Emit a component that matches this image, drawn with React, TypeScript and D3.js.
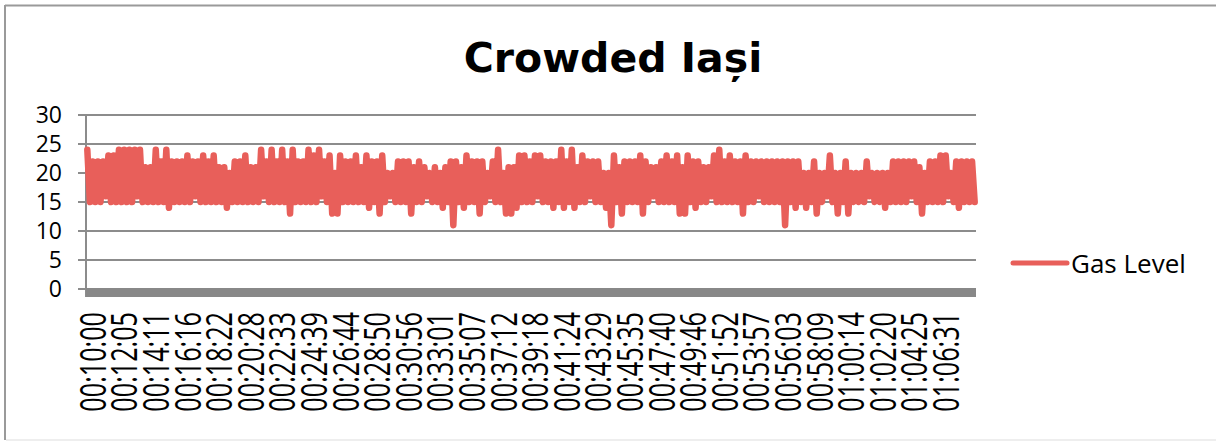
import React from "react";
import * as d3 from "d3";

const chartTitle = "Crowded Iași";
const seriesName = "Gas Level";

const gasLevel: number[] = [
  24,15,22,15,22,15,22,16,23,15,23,15,24,15,24,15,24,15,24,16,
  24,15,21,15,21,15,24,15,22,15,24,14,22,15,22,15,22,15,23,15,
  22,16,22,15,23,15,22,15,23,15,21,15,21,14,20,15,22,15,22,15,
  23,15,21,15,21,15,24,16,22,15,24,15,22,15,24,15,22,13,24,15,
  22,15,22,15,24,15,23,15,24,16,22,15,23,13,20,13,23,15,22,15,
  22,15,23,15,21,15,23,14,22,15,22,13,23,15,20,16,20,15,22,15,
  22,15,22,13,21,15,22,15,21,16,20,15,21,15,20,14,21,15,22,11,
  22,15,21,14,23,15,22,15,22,13,22,15,20,16,22,15,24,15,20,13,
  21,13,21,14,23,15,23,15,22,15,23,16,23,15,22,15,22,14,22,15,
  24,14,22,15,24,14,21,15,23,15,22,16,22,15,22,15,20,14,20,11,
  23,15,21,13,22,15,22,15,22,15,23,13,22,15,21,16,21,15,22,15,
  23,15,22,15,23,13,21,13,23,15,22,14,22,15,21,15,21,16,23,15,
  24,15,22,15,23,15,22,15,22,13,23,15,22,15,22,16,22,15,22,15,
  22,15,22,15,22,11,22,15,22,14,22,15,20,14,20,15,22,13,20,15,
  20,16,23,15,20,13,20,15,22,13,20,15,20,15,20,15,22,16,20,15,
  20,15,20,14,20,15,22,15,22,15,22,15,22,16,22,15,21,13,20,15,
  22,15,22,15,23,15,23,16,20,15,22,14,22,15,22,15,22,15,
];

const timeLabels: string[] = [
  "00:10:00","00:12:05","00:14:11","00:16:16","00:18:22","00:20:28","00:22:33",
  "00:24:39","00:26:44","00:28:50","00:30:56","00:33:01","00:35:07","00:37:12",
  "00:39:18","00:41:24","00:43:29","00:45:35","00:47:40","00:49:46","00:51:52",
  "00:53:57","00:56:03","00:58:09","01:00:14","01:02:20","01:04:25","01:06:31",
];
const labelEvery = 12;

const yTicks: number[] = [0, 5, 10, 15, 20, 25, 30];

export default function App() {
  const W = 1216, H = 441;
  const left = 86, right = 976, top = 115, bottom = 289;
  const N = gasLevel.length;
  const x = d3.scaleLinear().domain([-0.5, N - 0.5]).range([left, right]);
  const y = d3.scaleLinear().domain([0, 30]).range([bottom, top]);
  const line = d3.line<number>().x((_, i) => x(i)).y((d) => y(d));
  const red = "#E85F5A";
  const gray = "#8c8c8c";
  const font = "'DejaVu Sans', sans-serif";
  const labelFont = "'Open Sans', 'DejaVu Sans', sans-serif";

  return (
    <svg width={W} height={H} style={{ position: "absolute", left: 0, top: 0, background: "#fff" }}>
      {/* chart border */}
      <line x1={5} y1={5.5} x2={W} y2={5.5} stroke="#9a9a9a" strokeWidth={2} />
      <line x1={5} y1={5} x2={5} y2={H - 1} stroke="#9a9a9a" strokeWidth={2} />
      <line x1={6} y1={440} x2={W} y2={440} stroke="#dddddd" strokeWidth={1} />

      <text x={613} y={72} textAnchor="middle" fontFamily={font} fontWeight="bold" fontSize={41} fill="#000">
        {chartTitle}
      </text>

      {/* gridlines + y labels */}
      {yTicks.map((t) => (
        <g key={t}>
          <line x1={78} x2={right} y1={y(t)} y2={y(t)} stroke={gray} strokeWidth={2} />
          <text x={62} y={y(t)} dy="0.36em" textAnchor="end" fontFamily={labelFont} fontSize={23} fill="#000">
            {t}
          </text>
        </g>
      ))}
      <line x1={left} x2={left} y1={top} y2={297} stroke={gray} strokeWidth={2} />

      {/* series */}
      <path d={line(gasLevel) || ""} fill="none" stroke={red} strokeWidth={6.5} strokeLinejoin="round" strokeLinecap="round" />

      {/* floor */}
      <rect x={left} y={288} width={right - left} height={9} fill="#888888" />

      {/* x labels */}
      {timeLabels.map((lab, i) => {
        const cx = x(i * labelEvery) + 5.5;
        return (
          <text
            key={lab}
            transform={`translate(${cx},312) rotate(-90) scale(0.7,1)`}
            dy="0.36em"
            textAnchor="end"
            fontFamily={labelFont}
            fontSize={36}
            fill="#000"
          >
            {lab}
          </text>
        );
      })}

      {/* legend */}
      <line x1={1013} x2={1067} y1={263} y2={263} stroke={red} strokeWidth={5} strokeLinecap="round" />
      <text x={1071} y={273} fontFamily={labelFont} fontSize={26} fill="#000">
        {seriesName}
      </text>
    </svg>
  );
}
